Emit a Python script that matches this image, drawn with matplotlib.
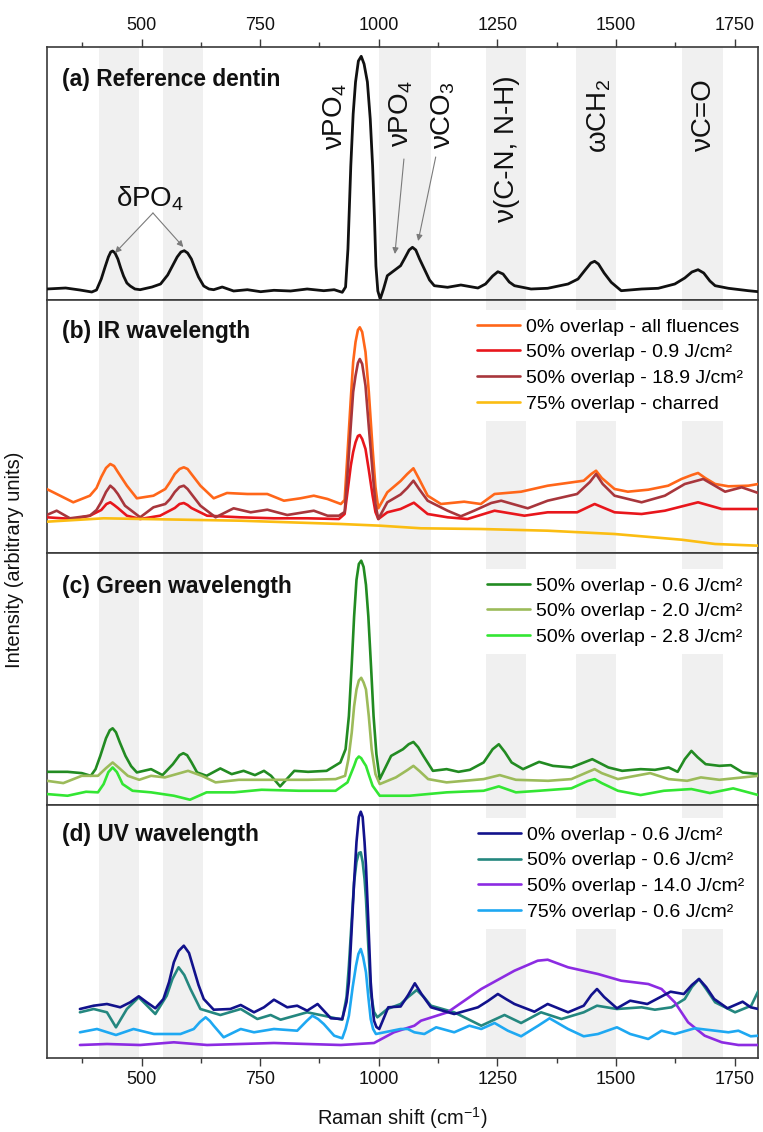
import matplotlib
matplotlib.use("Agg")
import matplotlib.pyplot as plt
from matplotlib.ticker import MultipleLocator

plt.rcParams['font.family'] = ['Liberation Sans', 'DejaVu Sans']
plt.rcParams['mathtext.fontset'] = 'custom'
plt.rcParams['mathtext.rm'] = 'Liberation Sans'
plt.rcParams['mathtext.it'] = 'Liberation Sans:italic'
plt.rcParams['mathtext.bf'] = 'Liberation Sans:bold'
plt.rcParams['mathtext.default'] = 'regular'
plt.rcParams['lines.solid_joinstyle'] = 'round'
plt.rcParams['lines.solid_capstyle'] = 'round'

# ---------------- data ----------------
bands = [(410, 495), (545, 630), (1000, 1110), (1225, 1310), (1415, 1500), (1640, 1725)]

# (a) reference dentin
a_x = [300, 340, 370, 395, 405, 415, 423, 430, 435, 439, 444, 450, 456, 462, 469, 476, 486, 497, 522, 540,
       555, 565, 575, 583, 590, 597, 605, 613, 620, 631, 642, 652,
       670, 694, 723, 751, 779, 814, 849, 884, 906, 923, 930, 935, 941, 946, 951, 957, 963, 969, 976, 982,
       987, 991, 994, 998, 1003, 1010, 1018,
       1032, 1046, 1055, 1064, 1071, 1078, 1086, 1096, 1107, 1117, 1145, 1173, 1209, 1225, 1240, 1251, 1262,
       1275, 1286, 1321, 1356, 1399,
       1420, 1435, 1447, 1455, 1463, 1475, 1490, 1511, 1554, 1589, 1624, 1645, 1660, 1673, 1685, 1698, 1709,
       1737, 1779, 1800]
a_y = [10, 11, 9, 7, 9, 20, 32, 42, 47, 48, 46, 40, 31, 23, 16, 13, 10, 9.3, 12, 15,
       24, 33, 42, 47, 48.3, 46, 40, 30, 22, 13, 10, 9.3,
       12, 8, 9.3, 7.3, 8.7, 8, 10, 8.3, 9.3, 6.7, 12, 50, 133, 185, 217, 238, 242.7, 235, 217, 180,
       133, 80, 33, 8, 0, 10, 23.3,
       28.3, 33.3, 41, 49, 51.7, 49, 40, 30, 19, 13.3, 11.7, 14, 11, 15, 23, 27.3, 25,
       17, 13.3, 10, 10.7, 15,
       20, 29, 36, 37.7, 35, 26, 16.7, 8.3, 10, 10.7, 15, 21, 27, 29.3, 26, 18, 13.3,
       10.7, 8.3, 7.3]

# (b) IR wavelength
b_orange_x = [300, 356, 391, 405, 415, 425, 434, 442, 450, 469, 490, 525, 550, 560, 570, 580, 589, 597, 605, 624,
              652, 680, 723, 765, 800, 835, 863, 892, 920, 928, 933, 941, 946, 951, 956, 960, 965, 972, 979,
              987, 993, 999, 1018, 1046, 1060, 1073, 1085, 1103, 1131, 1180,
              1215, 1244, 1300, 1356, 1432, 1448, 1458, 1470, 1497, 1525, 1568, 1610, 1638, 1660, 1673, 1688,
              1709, 1737, 1779, 1800]
b_orange_y = [63, 49.7, 56.3, 64, 75, 84, 88, 86, 80, 66.3, 53.7, 56.3, 63, 70, 78, 83, 84.7, 83, 78, 66.3,
              53.7, 59, 58, 58, 51.3, 53.7, 56.3, 53, 48, 52, 90, 153, 190, 210, 222, 224.7, 220, 200, 160,
              103, 65, 43.7, 59.7, 71, 78, 83.7, 73, 56.3, 48, 50.3,
              48, 58, 60.3, 66.3, 71.3, 78, 81.3, 74, 63, 60.3, 62.3, 66.3, 73, 77, 79, 74,
              68, 65.7, 66.3, 68]

b_red_x = [300, 356, 391, 415, 426, 434, 442, 450, 469, 497, 539, 570, 580, 589, 597, 605, 638, 708, 779, 849,
           916, 928, 934, 941, 946, 951, 956, 960, 965, 972, 979, 987, 993, 999, 1018, 1046, 1074, 1103, 1145,
           1187, 1244, 1307, 1356, 1418, 1455, 1497, 1554, 1603, 1673, 1723, 1800]
b_red_y = [34.7, 33, 36.3, 42, 48, 49.7, 47, 44, 36.3, 33, 36.3, 44, 48, 49, 47, 44, 36.3, 34.7, 33.7, 33.7,
           33, 38, 60, 86.3, 100, 109.7, 116, 117, 113, 103, 82, 56.3, 40, 33, 39.7, 43, 49.3, 38, 34.7,
           33, 41.3, 36.3, 39.7, 39.7, 48, 39.7, 38, 41.3, 49.7, 43, 43]

b_brown_x = [300, 321, 349, 391, 405, 415, 425, 434, 442, 450, 465, 497, 525, 550, 560, 570, 580, 589, 597, 605,
             624, 656, 694, 730, 765, 807, 863, 892, 916, 928, 933, 941, 946, 951, 956, 960, 965, 972, 979, 987,
             993, 999, 1018, 1046, 1060, 1073, 1085, 1103, 1145, 1173, 1201, 1237,
             1258, 1314, 1356, 1418, 1445, 1458, 1472, 1497, 1554, 1603, 1645, 1684, 1730, 1765, 1800]
b_brown_y = [37, 41.3, 33.7, 36.3, 42, 50, 60, 66.3, 63, 58, 46.3, 34.7, 44.7, 48, 53, 60, 65, 66.3, 63, 58,
             46.3, 34.7, 43.7, 39.7, 42.3, 37, 41.3, 36.3, 36.3, 40, 70, 126.3, 160, 176.3, 189, 193, 188, 166.3,
             125, 79.7, 48, 33, 49.7, 57.5, 64, 71.3, 63, 51.3, 41.3, 35.7, 41.3, 49,
             51.3, 43.7, 51.3, 58, 70, 78, 68, 56.3, 49.7, 56.3, 68, 73, 60.3, 64.7, 59]

b_yellow_x = [300, 420, 708, 920, 1004, 1089, 1215, 1356, 1497, 1638, 1709, 1800]
b_yellow_y = [30.3, 33.7, 31.3, 28, 26.3, 23.7, 23, 21.3, 18, 12.3, 8, 6.3]

# (c) Green wavelength
c_g06_x = [300, 344, 374, 393, 403, 413, 425, 433, 439, 446, 454, 466, 478, 490, 520, 544, 566, 580, 588, 596,
           605, 617, 637, 666, 690, 715, 739, 758, 773, 792, 822, 851, 890, 919, 930, 937, 943, 948, 953, 958,
           963, 968, 973, 978, 984, 989, 995, 1002, 1026, 1051, 1063, 1073, 1083, 1094, 1114, 1143, 1168,
           1192, 1221, 1240, 1253, 1266, 1280, 1304, 1338, 1367, 1406, 1450, 1484, 1513, 1552, 1582, 1611,
           1630, 1645, 1659, 1672, 1689, 1718, 1742, 1767, 1800]
c_g06_y = [32.3, 32.3, 31, 28.3, 35, 48.3, 66, 74, 76, 72, 62, 48.3, 38, 31.7, 35, 29, 40, 49, 51, 49,
           42, 31.7, 28.3, 35.7, 30, 33.3, 29, 33.3, 28.3, 17.7, 33.3, 32.3, 33.3, 41.7, 55, 88.3, 140, 188.3,
           225, 241, 244.3, 238, 220, 188.3, 135, 88.3, 50, 25, 48.3, 55, 60, 62.3, 57, 48.3, 33.3, 35, 32.3,
           34.3, 41.7, 55, 60, 52, 41.7, 35, 42.3, 38.3, 36.7, 45, 36.7, 33.3, 35, 34.3, 36.7,
           32.3, 45, 53.3, 47, 40, 38.3, 39, 31.7, 30]

c_g20_x = [300, 335, 374, 408, 425, 439, 453, 471, 495, 520, 549, 598, 627, 656, 705, 773, 851, 909, 929, 936,
           943, 948, 953, 958, 963, 968, 973, 979, 985, 993, 1002, 1036, 1060, 1073, 1086, 1104, 1143, 1221,
           1255, 1289, 1357, 1406, 1440, 1455, 1470, 1504, 1572, 1611, 1650, 1679, 1718, 1767, 1800]
c_g20_y = [23.3, 21, 28.3, 28.3, 36, 41.7, 36, 28.3, 24.3, 28.3, 26.7, 33.3, 28.3, 21.7, 24.3, 24.3, 24.3, 25, 28.3,
           45, 71.7, 98, 115, 124, 126.7, 122, 115, 88, 55, 30, 20, 26.7, 34, 38.3, 33, 25, 21.7, 25,
           29, 24.3, 23.3, 25, 32, 35, 31, 25, 31, 25, 23.3, 26.7, 24.3, 26.7, 28.3]

c_g28_x = [300, 344, 383, 408, 420, 430, 439, 448, 460, 481, 520, 568, 602, 637, 695, 753, 831, 909, 934, 941,
           948, 953, 958, 963, 968, 973, 980, 987, 1002, 1065, 1143, 1221, 1253, 1289, 1338, 1406, 1440,
           1455, 1470, 1504, 1552, 1601, 1659, 1698, 1747, 1800]
c_g28_y = [10, 8.3, 12.3, 11.7, 20, 32, 36.7, 32, 20, 13.3, 11.7, 8.3, 4.3, 11.7, 11.7, 14.3, 13.3, 13.3, 21.7, 30,
           38.3, 45, 47.7, 46, 42, 38.3, 28, 18.3, 8.3, 8.3, 11.7, 13.3, 17.7, 11.7, 13.3, 15.7, 23,
           25, 21, 13.3, 9, 13.3, 15, 11, 15.7, 9]

# (d) UV wavelength
d_navy_x = [370, 399, 427, 455, 476, 494, 511, 529, 546, 558, 568, 578, 589, 600, 610, 620, 631, 652, 687, 709,
            737, 758, 779, 807, 828, 849, 871, 899, 923, 932, 937, 942, 948, 953, 958, 962, 966, 970, 973, 978,
            983, 987, 990, 995, 1001, 1020, 1046, 1062, 1076, 1090, 1110, 1159, 1209, 1230, 1251, 1268,
            1286, 1328, 1356, 1399, 1432, 1448, 1460, 1475, 1502, 1530, 1566, 1615, 1643, 1660, 1675, 1690,
            1707, 1735, 1767, 1784, 1800]
d_navy_y = [48, 51.3, 53, 49.7, 54.7, 60.7, 54.7, 48.7, 58, 75, 94.7, 106, 111.3, 104, 88, 72, 58, 47.3, 48, 52,
            44.7, 49.7, 57.3, 49.7, 51.3, 46.3, 53, 38.7, 38, 55, 75, 120, 175, 215, 240, 245.3, 240, 215, 191.3,
            135, 75, 50, 36.3, 30, 28, 49.7, 50.5, 62, 73.7, 63, 49.7, 43, 49.7, 56, 63, 58,
            53, 45.3, 53, 44.7, 51.3, 62, 68, 60, 48.7, 56.3, 53, 65.3, 63, 72, 78, 70,
            58, 48.7, 55.3, 49.7, 48]

d_teal_x = [370, 399, 427, 446, 469, 494, 529, 553, 565, 578, 590, 603, 624, 666, 709, 744, 772, 793, 849, 884,
            923, 932, 937, 942, 948, 953, 958, 962, 966, 970, 973, 978, 983, 990, 997, 1018, 1046, 1062, 1080,
            1095, 1110, 1159, 1216, 1265, 1300, 1342, 1385, 1432, 1460, 1502, 1554, 1582, 1617, 1645, 1660,
            1675, 1690, 1709, 1751, 1785, 1800]
d_teal_y = [44.7, 48, 44.7, 29.7, 48, 59.7, 43, 61.3, 78, 89.7, 82, 68, 48, 42, 48, 38, 42, 37.3, 44.7, 41.3,
            37.3, 60, 91.3, 130, 174.7, 195, 204, 204.7, 195, 178, 158, 110, 64.7, 45, 39.7, 48, 53, 60, 67,
            60, 51.3, 44.7, 31.3, 42, 34, 44.7, 38, 44.7, 51.3, 48, 49.7, 47.3, 49.7, 58, 70,
            78, 68, 54.7, 44.7, 51.3, 66]

d_purple_x = [370, 427, 497, 568, 638, 779, 920, 990, 1032, 1075, 1089, 1145, 1216, 1286, 1335, 1356, 1399, 1462,
              1511, 1568, 1596, 1624, 1652, 1687, 1723, 1758, 1800]
d_purple_y = [12, 13, 12, 14.7, 12, 14, 12, 14, 24.7, 31.3, 36.3, 44.7, 68, 86.3, 96.3, 97.3, 89.7, 83,
              76.3, 73, 68, 54.7, 34.7, 21.3, 14.7, 12, 12]

d_blue_x = [370, 406, 446, 483, 526, 582, 610, 623, 635, 644, 652, 673, 709, 737, 779, 828, 848, 860, 872, 884,
            906, 923, 930, 937, 945, 952, 957, 962, 967, 973, 978, 983, 988, 994, 1018, 1046, 1061, 1075,
            1096, 1121, 1159, 1191, 1216, 1244, 1272, 1300, 1336, 1360, 1399, 1432, 1462, 1502, 1530, 1568,
            1596, 1624, 1666, 1709, 1737, 1758, 1784, 1800]
d_blue_y = [24.7, 28, 22, 28, 23, 23, 28, 35, 39.7, 36, 31.3, 19.7, 28, 24.7, 28, 26.3, 36, 41.3, 38, 33,
            21.3, 18.7, 28, 41.3, 70, 91.3, 103, 108, 100, 84.7, 60, 38, 28, 23, 25.3, 28, 28, 24.7,
            23, 29.7, 24.7, 31.3, 28, 34, 26.3, 20.7, 31.3, 38.7, 28, 20.7, 23, 29.7, 23, 18,
            26.3, 23, 28.7, 26.3, 24.7, 26.3, 20.7, 21.3]

titles = ["(a) Reference dentin", "(b) IR wavelength", "(c) Green wavelength", "(d) UV wavelength"]

b_labels = ["0% overlap - all fluences", "50% overlap - 0.9 J/cm²", "50% overlap - 18.9 J/cm²",
            "75% overlap - charred"]
c_labels = ["50% overlap - 0.6 J/cm²", "50% overlap - 2.0 J/cm²", "50% overlap - 2.8 J/cm²"]
d_labels = ["0% overlap - 0.6 J/cm²", "50% overlap - 0.6 J/cm²", "50% overlap - 14.0 J/cm²",
            "75% overlap - 0.6 J/cm²"]

# ---------------- figure ----------------
W, H = 763, 1132
fig = plt.figure(figsize=(W / 100, H / 100), dpi=100)

left = 46.7 / W
width = (758.3 - 46.7) / W
edges = [(47, 300), (300, 553), (553, 805), (805, 1058)]
axes = []
for top, bot in edges:
    ax = fig.add_axes([left, 1 - bot / H, width, (bot - top) / H])
    axes.append(ax)

band_color = '#f0f0f0'
spine_color = '#3a3a3a'
LW = 1.9

for i, ax in enumerate(axes):
    for x0, x1 in bands:
        ax.axvspan(x0, x1, color=band_color, lw=0, zorder=0)
    ax.set_xlim(300, 1800)
    ax.set_ylim(-1, 252)
    ax.set_yticks([])
    for s in ax.spines.values():
        s.set_color(spine_color)
        s.set_linewidth(1.2)
    ax.xaxis.set_major_locator(MultipleLocator(250))
    ax.xaxis.set_minor_locator(MultipleLocator(125))
    ax.tick_params(axis='x', which='both', direction='out', colors=spine_color, labelcolor='#111111',
                   labelsize=13, bottom=False, top=False, labelbottom=False, labeltop=False)
    ax.tick_params(axis='x', which='major', length=6, width=1.0)
    ax.tick_params(axis='x', which='minor', length=3.5, width=1.0)
    ax.text(0.0215, [0.87, 0.875, 0.866, 0.884][i], titles[i], transform=ax.transAxes,
            ha='left', va='center', fontsize=16.4, fontweight='bold', color='#111111')

axes[0].tick_params(axis='x', which='both', top=True, labeltop=True)
axes[3].tick_params(axis='x', which='both', bottom=True, labelbottom=True)
axes[3].set_xlabel("Raman shift (cm$^{-1}$)", fontsize=14.5, labelpad=12, color='#111111')

# (a)
ax = axes[0]
ax.plot(a_x, a_y, color='#111111', lw=2.0, zorder=3)
arrow = dict(arrowstyle='-|>', color='#7a7a7a', lw=0.8, mutation_scale=9, shrinkA=0, shrinkB=0)
ax.text(518, 100, "δPO$_4$", fontsize=20, ha='center', va='center', color='#111111')
ax.annotate('', xy=(444, 46), xytext=(524, 86), arrowprops=arrow)
ax.annotate('', xy=(588, 52), xytext=(524, 86), arrowprops=arrow)
ann = [(909, 182, "νPO$_4$"), (1047, 185, "νPO$_4$"), (1135, 184, "νCO$_3$"),
       (1271, 150, "ν(C-N, N-H)"), (1465, 183, "ωCH$_2$"), (1685, 184, "νC=O")]
for x, y, t in ann:
    ax.text(x, y, t, rotation=90, fontsize=20, ha='center', va='center', color='#111111')
ax.annotate('', xy=(1034, 45), xytext=(1053, 140), arrowprops=arrow)
ax.annotate('', xy=(1083, 58), xytext=(1120, 142), arrowprops=arrow)

leg_kw = dict(loc='upper left', fontsize=14, frameon=True, facecolor='white', edgecolor='none',
              framealpha=1, borderpad=0.4, borderaxespad=0, handlelength=2.2, handletextpad=0.35,
              labelspacing=0.42, fancybox=False)

# (b)
ax = axes[1]
ax.plot(b_orange_x, b_orange_y, color='#ff6619', lw=LW, label=b_labels[0], zorder=3)
ax.plot(b_red_x, b_red_y, color='#e8161c', lw=LW, label=b_labels[1], zorder=3)
ax.plot(b_brown_x, b_brown_y, color='#a8363c', lw=LW, label=b_labels[2], zorder=3)
ax.plot(b_yellow_x, b_yellow_y, color='#fbbd12', lw=LW, label=b_labels[3], zorder=3)
ax.legend(bbox_to_anchor=(0.5935, 0.960), **leg_kw)

# (c)
ax = axes[2]
ax.plot(c_g06_x, c_g06_y, color='#228b22', lw=LW, label=c_labels[0], zorder=3)
ax.plot(c_g20_x, c_g20_y, color='#9cbb5a', lw=LW, label=c_labels[1], zorder=3)
ax.plot(c_g28_x, c_g28_y, color='#33e633', lw=LW, label=c_labels[2], zorder=3)
ax.legend(bbox_to_anchor=(0.6075, 0.936), **leg_kw)

# (d)
ax = axes[3]
ax.plot(d_navy_x, d_navy_y, color='#12128c', lw=LW, label=d_labels[0], zorder=4)
ax.plot(d_teal_x, d_teal_y, color='#24877f', lw=LW, label=d_labels[1], zorder=3)
ax.plot(d_purple_x, d_purple_y, color='#8c2be2', lw=LW, label=d_labels[2], zorder=3)
ax.plot(d_blue_x, d_blue_y, color='#1ea8f2', lw=LW, label=d_labels[3], zorder=3)
ax.legend(bbox_to_anchor=(0.595, 0.948), **leg_kw)

fig.text(15 / W, 1 - 560 / H, "Intensity (arbitrary units)", rotation=90, fontsize=14.5,
         ha='center', va='center', color='#111111')

fig.savefig("out.png", dpi=100)
